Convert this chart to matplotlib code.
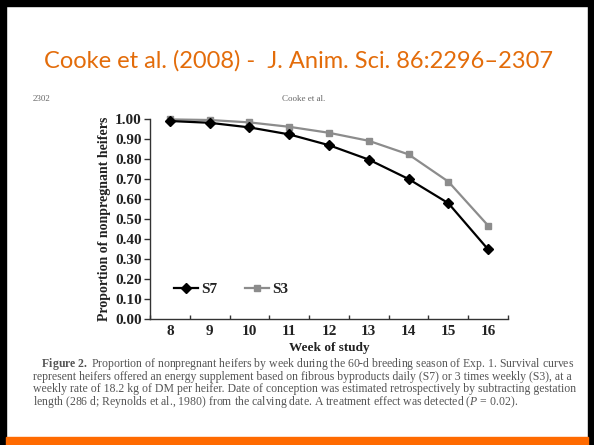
import numpy as np
import matplotlib
matplotlib.use("Agg")
import matplotlib.pyplot as plt
from matplotlib.patches import Rectangle

# data
weeks = [8, 9, 10, 11, 12, 13, 14, 15, 16]
s7 = [0.990, 0.981, 0.958, 0.923, 0.869, 0.797, 0.700, 0.579, 0.348]
s3 = [0.998, 0.995, 0.983, 0.961, 0.931, 0.891, 0.823, 0.687, 0.467]
y_ticks = [0.0, 0.1, 0.2, 0.3, 0.4, 0.5, 0.6, 0.7, 0.8, 0.9, 1.0]

title = "Cooke et al. (2008) -  J. Anim. Sci. 86:2296\u20132307"
caption = [
    "   $\\mathbf{Figure\\ 2.}$ Proportion of nonpregnant heifers by week during the 60-d breeding season of Exp. 1. Survival curves",
    "represent heifers offered an energy supplement based on fibrous byproducts daily (S7) or 3 times weekly (S3), at a",
    "weekly rate of 18.2 kg of DM per heifer. Date of conception was estimated retrospectively by subtracting gestation",
    "length (286 d; Reynolds et al., 1980) from the calving date. A treatment effect was detected ($P$ = 0.02).",
]

W, H = 594, 445
SERIF = "Liberation Serif"
plt.rcParams["mathtext.fontset"] = "custom"
plt.rcParams["mathtext.rm"] = SERIF
plt.rcParams["mathtext.it"] = SERIF + ":italic"
plt.rcParams["mathtext.bf"] = SERIF + ":bold"


def fx(px):
    return px / W


def fy(py):
    return 1 - py / H


fig = plt.figure(figsize=(W / 100, H / 100), dpi=100)
fig.patch.set_facecolor("white")

# slide frame: black border on top/left/right, orange bar at the bottom
fig.patches.append(Rectangle((0, fy(6)), 1, 6 / H, transform=fig.transFigure, color="black", zorder=0))
fig.patches.append(Rectangle((0, 0), 6 / W, 1, transform=fig.transFigure, color="black", zorder=0))
fig.patches.append(Rectangle((fx(588), 0), 6 / W, 1, transform=fig.transFigure, color="black", zorder=0))
fig.patches.append(Rectangle((6 / W, 0), fx(582), 8 / H, transform=fig.transFigure, color="#FF6A00", zorder=1))

fig.text(fx(299), fy(61), title, ha="center", va="center", color="#E36C0A",
         fontsize=17, family="Lato")
fig.text(fx(33), fy(99), "2302", ha="left", va="center", color="#666666", fontsize=6.5, family=SERIF)
fig.text(fx(304), fy(99), "Cooke et al.", ha="center", va="center", color="#666666", fontsize=6.5, family=SERIF)

ax = fig.add_axes([fx(150), fy(319), (508 - 150) / W, (319 - 119) / H])
ax.plot(weeks, s7, color="black", lw=1.6, marker="D", ms=5, label="S7", clip_on=False, zorder=3)
ax.plot(weeks, s3, color="#8c8c8c", lw=1.6, marker="s", ms=5, label="S3", clip_on=False, zorder=2)

ax.set_xlim(7.5, 16.5)
ax.set_ylim(0, 1.0)
for side in ["top", "right"]:
    ax.spines[side].set_visible(False)
for side in ["left", "bottom"]:
    ax.spines[side].set_color("#333333")
    ax.spines[side].set_linewidth(1.0)

ax.set_yticks(y_ticks)
ax.set_yticklabels(["%.2f" % v for v in y_ticks])
ax.set_xticks(weeks)
ax.set_xticks(np.arange(7.5, 16.6, 1.0), minor=True)
ax.tick_params(axis="y", direction="out", length=4, width=1, color="#333333", pad=2)
ax.tick_params(axis="x", which="major", length=0, pad=4)
ax.tick_params(axis="x", which="minor", direction="in", length=3, width=1, color="#333333")
for lab in ax.get_xticklabels() + ax.get_yticklabels():
    lab.set_family(SERIF)
    lab.set_fontweight("bold")
    lab.set_fontsize(11)
    lab.set_color("#222222")

ax.set_xlabel("Week of study", family=SERIF, fontweight="bold", fontsize=9.5, color="#222222", labelpad=3)
ax.set_ylabel("Proportion of nonpregnant heifers", family=SERIF, fontweight="bold", fontsize=10,
              color="#222222", labelpad=3)

leg = ax.legend(loc="center left", bbox_to_anchor=(0.045, 0.15), frameon=False, ncol=2,
                handlelength=1.6, handletextpad=0.2, columnspacing=1.8, borderpad=0,
                prop={"family": SERIF, "weight": "bold", "size": 11})
for t in leg.get_texts():
    t.set_color("#222222")

# caption as one block so the lines sit tight like in the journal
fig.text(fx(33), fy(356), "\n".join(caption), ha="left", va="top", fontsize=8.5,
         family=SERIF, color="#555555", linespacing=0.92, multialignment="left")

fig.savefig("out.png", dpi=100, facecolor=fig.get_facecolor())
